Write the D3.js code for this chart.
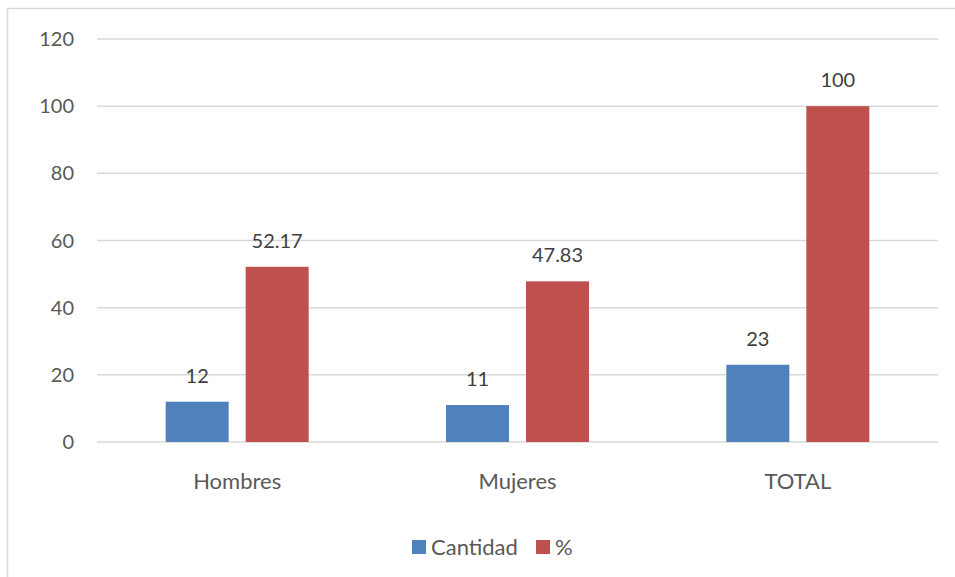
<!DOCTYPE html>
<html>
<head>
<meta charset="utf-8">
<script src="https://cdn.jsdelivr.net/npm/d3@7"></script>
<style>
  body { margin: 0; background: #fff; }
  text { font-family: Lato, "Open Sans", sans-serif; fill: #595959; }
</style>
</head>
<body>
<script>
var categories = ["Hombres", "Mujeres", "TOTAL"];
var cantidad = [12, 11, 23];
var porcentaje = [52.17, 47.83, 100];
var porcentajeLabels = ["52.17", "47.83", "100"];
var yTicks = [0, 20, 40, 60, 80, 100, 120];
var seriesNames = ["Cantidad", "%"];
var colors = ["#4f81bd", "#c0504d"];

var width = 955, height = 577;
var margin = {left: 97, right: 17, top: 39, bottom: 135};

var svg = d3.select("body").append("svg")
    .attr("width", width)
    .attr("height", height);

// chart border
svg.append("rect")
    .attr("x", 7.5).attr("y", 8.5)
    .attr("width", 960).attr("height", 600)
    .style("fill", "none")
    .style("stroke", "#d9d9d9")
    .style("stroke-width", 1.5);

var x = d3.scaleBand()
    .domain(categories)
    .range([margin.left, width - margin.right]);

var y = d3.scaleLinear()
    .domain([0, 120])
    .range([height - margin.bottom, margin.top]);

// gridlines
svg.append("g").selectAll("line")
    .data(yTicks)
    .enter().append("line")
    .attr("x1", margin.left)
    .attr("x2", width - margin.right)
    .attr("y1", function(d) { return y(d); })
    .attr("y2", function(d) { return y(d); })
    .style("stroke", "#d9d9d9")
    .style("stroke-width", 1.5);

// y tick labels
svg.append("g").selectAll("text")
    .data(yTicks)
    .enter().append("text")
    .attr("x", 74)
    .attr("y", function(d) { return y(d); })
    .attr("dy", "0.35em")
    .attr("text-anchor", "end")
    .style("font-size", "20px")
    .text(function(d) { return d; });

var barW = 63, gap = 17;
var sub = d3.scaleOrdinal().domain([0, 1]).range([-(barW + gap) / 2, (barW + gap) / 2]);

var series = [cantidad, porcentaje];
var labels = [cantidad.map(String), porcentajeLabels];

series.forEach(function(vals, s) {
    var g = svg.append("g");
    g.selectAll("rect")
        .data(vals)
        .enter().append("rect")
        .attr("x", function(d, i) { return x(categories[i]) + x.bandwidth() / 2 + sub(s) - barW / 2; })
        .attr("y", function(d) { return y(d); })
        .attr("width", barW)
        .attr("height", function(d) { return y(0) - y(d); })
        .style("fill", colors[s]);

    g.selectAll("text")
        .data(vals)
        .enter().append("text")
        .attr("x", function(d, i) { return x(categories[i]) + x.bandwidth() / 2 + sub(s); })
        .attr("y", function(d) { return y(d) - 26; })
        .attr("dy", "0.35em")
        .attr("text-anchor", "middle")
        .style("font-size", "20px")
        .style("fill", "#404040")
        .text(function(d, i) { return labels[s][i]; });
});

// category labels
svg.append("g").selectAll("text")
    .data(categories)
    .enter().append("text")
    .attr("x", function(d) { return x(d) + x.bandwidth() / 2; })
    .attr("y", 481)
    .attr("dy", "0.35em")
    .attr("text-anchor", "middle")
    .style("font-size", "22px")
    .text(function(d) { return d; });

// legend
var legendX = [412, 536];
var legend = svg.append("g").selectAll("g")
    .data(seriesNames)
    .enter().append("g")
    .attr("transform", function(d, i) { return "translate(" + legendX[i] + ",547)"; });

legend.append("rect")
    .attr("x", 0).attr("y", -7)
    .attr("width", 14).attr("height", 14)
    .style("fill", function(d, i) { return colors[i]; });

legend.append("text")
    .attr("x", 19)
    .attr("y", 0)
    .attr("dy", "0.35em")
    .style("font-size", "22px")
    .text(function(d) { return d; });
</script>
</body>
</html>
